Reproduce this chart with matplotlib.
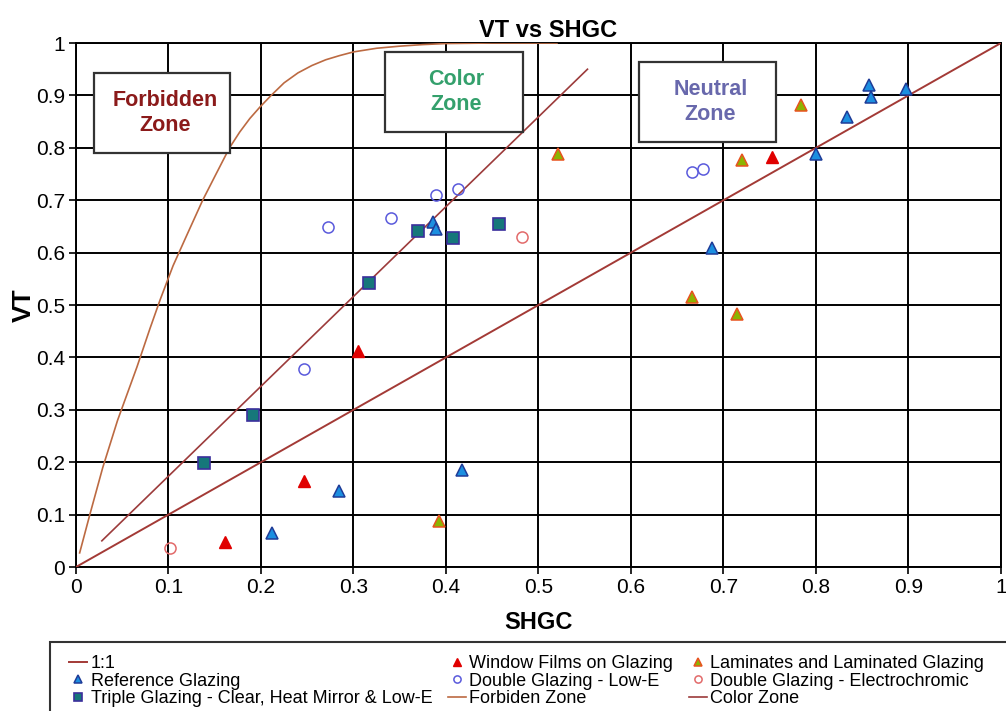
import numpy as np
import matplotlib.pyplot as plt
from matplotlib.patches import Rectangle

plt.rcParams['font.family'] = ['Liberation Sans', 'DejaVu Sans']

# --- data ---
ref_shgc = [0.212, 0.284, 0.417, 0.386, 0.389, 0.688, 0.800, 0.834, 0.857, 0.859, 0.897]
ref_vt = [0.065, 0.145, 0.185, 0.658, 0.645, 0.609, 0.788, 0.859, 0.920, 0.897, 0.912]

film_shgc = [0.161, 0.246, 0.305, 0.752]
film_vt = [0.048, 0.164, 0.412, 0.783]

lam_shgc = [0.392, 0.521, 0.666, 0.715, 0.720, 0.784]
lam_vt = [0.088, 0.788, 0.516, 0.483, 0.777, 0.882]

lowe_shgc = [0.247, 0.273, 0.341, 0.389, 0.413, 0.666, 0.678]
lowe_vt = [0.378, 0.649, 0.666, 0.710, 0.721, 0.754, 0.760]

ec_shgc = [0.102, 0.482]
ec_vt = [0.036, 0.630]

triple_shgc = [0.138, 0.191, 0.317, 0.370, 0.408, 0.457]
triple_vt = [0.199, 0.290, 0.542, 0.641, 0.628, 0.655]

one_x = [0.0, 1.0]
one_y = [0.0, 1.0]

forbid_x = [0.004, 0.015, 0.029, 0.045, 0.066, 0.080, 0.091, 0.105, 0.119, 0.137, 0.150,
            0.166, 0.177, 0.188, 0.199, 0.211, 0.225, 0.240, 0.255, 0.270, 0.285, 0.300,
            0.325, 0.350, 0.375, 0.400, 0.450, 0.520]
forbid_y = [0.027, 0.100, 0.190, 0.280, 0.382, 0.455, 0.510, 0.575, 0.630, 0.700, 0.745,
            0.800, 0.830, 0.856, 0.878, 0.900, 0.924, 0.943, 0.957, 0.968, 0.976, 0.983,
            0.990, 0.994, 0.997, 0.999, 1.000, 1.000]

color_x = [0.028, 0.553]
color_y = [0.050, 0.950]

# zone label boxes: (x0, y0, x1, y1)
zones = ['Forbidden\nZone', 'Color\nZone', 'Neutral\nZone']
zone_boxes = [(0.020, 0.790, 0.167, 0.943), (0.334, 0.830, 0.483, 0.983), (0.609, 0.811, 0.757, 0.964)]
zone_colors = ['#8B1A1A', '#34A06C', '#6868AC']

fig = plt.figure(figsize=(10.06, 7.11), dpi=100)
ax = fig.add_axes([0.0755, 0.2025, 0.9195, 0.737])

c_one = '#A33A36'
c_forbid = '#BC6A42'
c_color = '#9C3B3B'

h_one, = ax.plot(one_x, one_y, color=c_one, lw=1.4, label='1:1', zorder=3)
h_ref, = ax.plot(ref_shgc, ref_vt, ls='none', marker='^', ms=8.5, mfc='#1C8FE0',
                 mec='#1F3C98', mew=1.1, label='Reference Glazing', zorder=4)
h_tri, = ax.plot(triple_shgc, triple_vt, ls='none', marker='s', ms=9, mfc='#16777A',
                 mec='#3B2F9C', mew=1.2, label='Triple Glazing - Clear, Heat Mirror & Low-E', zorder=4)
h_film, = ax.plot(film_shgc, film_vt, ls='none', marker='^', ms=8.5, mfc='#E00000',
                  mec='#E00000', label='Window Films on Glazing', zorder=4)
h_lowe, = ax.plot(lowe_shgc, lowe_vt, ls='none', marker='o', ms=8, mfc='none',
                  mec='#5A5ADC', mew=1.1, label='Double Glazing - Low-E', zorder=4)
h_forbid, = ax.plot(forbid_x, forbid_y, color=c_forbid, lw=1.2, label='Forbiden Zone', zorder=3)
h_lam, = ax.plot(lam_shgc, lam_vt, ls='none', marker='^', ms=8.5, mfc='#8CB400',
                 mec='#E8531F', mew=1.1, label='Laminates and Laminated Glazing', zorder=4)
h_ec, = ax.plot(ec_shgc, ec_vt, ls='none', marker='o', ms=8, mfc='none',
                mec='#E26A6A', mew=1.1, label='Double Glazing - Electrochromic', zorder=4)
h_col, = ax.plot(color_x, color_y, color=c_color, lw=1.2, label='Color Zone', zorder=3)

ax.set_xlim(0, 1)
ax.set_ylim(0, 1)
ticks = np.arange(0, 1.01, 0.1)
tick_labels = ['0', '0.1', '0.2', '0.3', '0.4', '0.5', '0.6', '0.7', '0.8', '0.9', '1']
ax.set_xticks(ticks)
ax.set_yticks(ticks)
ax.set_xticklabels(tick_labels)
ax.set_yticklabels(tick_labels)
ax.tick_params(labelsize=15, direction='out', length=5, width=1.2, pad=3)
ax.grid(True, color='black', lw=1.4)
ax.set_axisbelow(True)
for s in ax.spines.values():
    s.set_linewidth(1.4)

ax.set_title('VT vs SHGC', fontsize=17, fontweight='bold', pad=4, x=0.51)
ax.set_xlabel('SHGC', fontsize=17, fontweight='bold', labelpad=10)
ax.set_ylabel('VT', fontsize=19, fontweight='bold', labelpad=0)

for label, (x0, y0, x1, y1), col in zip(zones, zone_boxes, zone_colors):
    ax.add_patch(Rectangle((x0, y0), x1 - x0, y1 - y0, fc='white', ec='#333333', lw=1.6, zorder=5))
    ax.text((x0 + x1) / 2 + 0.003, (y0 + y1) / 2, label, ha='center', va='center', fontsize=15.5,
            fontweight='bold', color=col, linespacing=1.25, zorder=6)

# legend frame runs off the right and bottom edge like the reference
fig.patches.append(Rectangle((50 / 1006, -0.05), 1.0, 0.05 + 1 - 642 / 711, transform=fig.transFigure,
                             fc='white', ec='#333333', lw=1.5, zorder=0))

handles = [h_one, h_ref, h_tri, h_film, h_lowe, h_forbid, h_lam, h_ec, h_col]
leg = fig.legend(handles=handles, loc='upper left', bbox_to_anchor=(60 / 1006, 1 - 646 / 711),
                 ncol=3, fontsize=13, frameon=False,
                 handlelength=1.0, handletextpad=0.2, labelspacing=0.03, columnspacing=0.85,
                 borderpad=0.0, markerscale=0.65)

fig.savefig('out.png', dpi=100)
